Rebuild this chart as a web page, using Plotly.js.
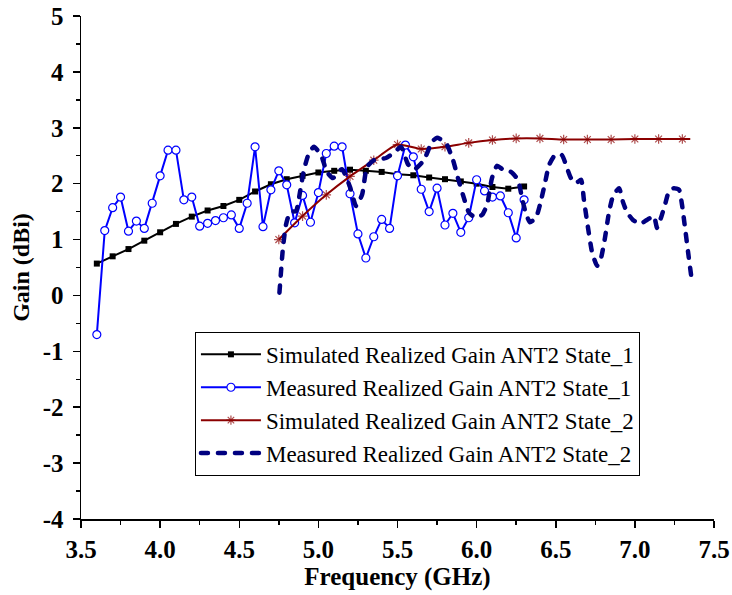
<!DOCTYPE html>
<html>
<head>
<meta charset="utf-8">
<script src="https://cdn.plot.ly/plotly-3.0.1.min.js"></script>
<style>
html,body{margin:0;padding:0;background:#fff}
#chart{width:732px;height:595px}
.scatterlayer .trace:nth-child(4) .js-line{stroke-linecap:round}
.legend .traces:nth-child(4) .js-line{stroke-linecap:round}
</style>
</head>
<body>
<div id="chart"></div>
<script>
// Simulated Realized Gain ANT2 State_1
const simFreq1 = [3.6,3.7,3.8,3.9,4.0,4.1,4.2,4.3,4.4,4.5,4.6,4.7,4.8,4.9,5.0,5.1,5.2,5.3,5.4,5.5,5.6,5.7,5.8,5.9,6.0,6.1,6.2,6.3];
const simGain1 = [0.57,0.70,0.83,0.98,1.13,1.28,1.41,1.52,1.60,1.71,1.86,1.99,2.08,2.14,2.20,2.23,2.25,2.23,2.21,2.17,2.15,2.11,2.08,2.04,2.00,1.94,1.91,1.95];

// Measured Realized Gain ANT2 State_1
const measFreq1 = [3.60,3.65,3.70,3.75,3.80,3.85,3.90,3.95,4.00,4.05,4.10,4.15,4.20,4.25,4.30,4.35,4.40,4.45,4.50,4.55,4.60,4.65,4.70,4.75,4.80,4.85,4.90,4.95,5.00,5.05,5.10,5.15,5.20,5.25,5.30,5.35,5.40,5.45,5.50,5.55,5.60,5.65,5.70,5.75,5.80,5.85,5.90,5.95,6.00,6.05,6.10,6.15,6.20,6.25,6.30];
const measGain1 = [-0.70,1.16,1.57,1.76,1.15,1.33,1.20,1.65,2.14,2.60,2.60,1.71,1.76,1.24,1.29,1.34,1.39,1.44,1.20,1.65,2.66,1.23,1.89,2.23,1.98,1.30,1.79,1.31,1.84,2.54,2.67,2.66,1.82,1.10,0.67,1.05,1.36,1.20,2.14,2.69,2.48,1.90,1.50,1.92,1.26,1.47,1.13,1.39,2.07,1.87,1.76,1.78,1.48,1.03,1.71];

// Simulated Realized Gain ANT2 State_2
const simFreq2 = [4.75,4.90,5.05,5.20,5.35,5.50,5.65,5.80,5.95,6.10,6.25,6.40,6.55,6.70,6.85,7.00,7.15,7.30,7.35];
const simGain2 = [1.00,1.42,1.80,2.13,2.42,2.70,2.62,2.66,2.73,2.78,2.81,2.81,2.79,2.79,2.79,2.80,2.80,2.80,2.80];
const simMarked2 = [1,1,1,1,1,1,1,1,1,1,1,1,1,1,1,1,1,1,0];

// Measured Realized Gain ANT2 State_2
const measFreq2 = [4.754,4.776,4.795,4.821,4.859,4.884,4.909,4.941,4.972,5.017,5.054,5.092,5.149,5.200,5.238,5.276,5.307,5.351,5.427,5.484,5.522,5.566,5.604,5.667,5.718,5.750,5.806,5.851,5.882,5.920,5.952,5.996,6.034,6.066,6.097,6.129,6.167,6.217,6.261,6.287,6.312,6.337,6.375,6.400,6.432,6.457,6.495,6.539,6.571,6.596,6.628,6.660,6.678,6.704,6.729,6.761,6.786,6.811,6.836,6.862,6.900,6.925,6.950,6.988,7.032,7.076,7.120,7.140,7.165,7.190,7.216,7.247,7.279,7.298,7.317,7.336,7.355];
const measGain2 = [0.05,0.85,1.26,1.49,1.51,1.85,2.25,2.55,2.66,2.51,2.21,2.10,2.26,1.94,1.60,1.80,2.30,2.42,2.46,2.57,2.66,2.35,2.25,2.42,2.75,2.82,2.73,2.42,2.10,1.74,1.48,1.39,1.44,1.62,2.10,2.32,2.25,2.21,2.07,1.74,1.46,1.31,1.39,1.62,2.01,2.33,2.51,2.51,2.28,2.10,2.01,2.07,1.71,1.21,0.78,0.53,0.67,1.03,1.48,1.78,1.92,1.67,1.49,1.35,1.28,1.35,1.42,1.21,1.39,1.62,1.87,1.92,1.89,1.62,1.21,0.78,0.37];

// Axis ticks
const xTickVals = [3.5,4.0,4.5,5.0,5.5,6.0,6.5,7.0,7.5];
const xTickText = ['3.5','4.0','4.5','5.0','5.5','6.0','6.5','7.0','7.5'];
const yTickVals = [-4,-3,-2,-1,0,1,2,3,4,5];
const yTickText = ['-4','-3','-2','-1','0','1','2','3','4','5'];

const names = [
  'Simulated Realized Gain ANT2 State_1',
  'Measured Realized Gain ANT2 State_1',
  'Simulated Realized Gain ANT2 State_2',
  'Measured Realized Gain ANT2 State_2'
];

const serif = 'Liberation Serif, Times New Roman, serif';

const traces = [
  {
    x: simFreq1, y: simGain1, name: names[0], type: 'scatter', mode: 'lines+markers',
    line: {color: '#000000', width: 2},
    marker: {symbol: 'square', size: 6, color: '#000000'}
  },
  {
    x: measFreq1, y: measGain1, name: names[1], type: 'scatter', mode: 'lines+markers',
    line: {color: '#0000FF', width: 2},
    marker: {symbol: 'circle', size: 8, color: '#FFFFFF', line: {color: '#0000FF', width: 1.2}}
  },
  {
    x: simFreq2, y: simGain2, name: names[2], type: 'scatter', mode: 'lines+markers',
    line: {color: '#8B0000', width: 2, shape: 'spline', smoothing: 0.6},
    marker: {symbol: 'asterisk-open', size: simMarked2.map(v => v ? 8 : 0), color: '#8B0000', line: {color: '#8B0000', width: 1.2}}
  },
  {
    x: measFreq2, y: measGain2, name: names[3], type: 'scatter', mode: 'lines',
    line: {color: '#000080', width: 4.5, dash: '7px,10px', shape: 'spline', smoothing: 0.5}
  }
];

const axisCommon = {
  showgrid: false, zeroline: false, showline: true, linecolor: '#000', linewidth: 1.5,
  ticks: 'outside', ticklen: 7, tickwidth: 1.5, tickcolor: '#000',
  tickfont: {family: serif, size: 25, color: '#000'},
  mirror: false
};

const bold = a => a.map(s => '<b>' + s + '</b>');

const layout = {
  width: 732, height: 595,
  paper_bgcolor: '#fff', plot_bgcolor: '#fff',
  margin: {l: 81, r: 18, t: 16, b: 76},
  showlegend: true,
  xaxis: Object.assign({}, axisCommon, {
    range: [3.5, 7.5], tickmode: 'array', tickvals: xTickVals, ticktext: bold(xTickText),
    minor: {dtick: 0.25, tick0: 3.5, ticks: 'outside', ticklen: 4, tickwidth: 1.5, tickcolor: '#000'},
    title: {text: '<b>Frequency (GHz)</b>', font: {family: serif, size: 25, color: '#000'}, standoff: 4}
  }),
  yaxis: Object.assign({}, axisCommon, {
    range: [-4, 5], tickmode: 'array', tickvals: yTickVals, ticktext: bold(yTickText),
    ticklabelstandoff: 4,
    minor: {dtick: 0.5, tick0: 0, ticks: 'outside', ticklen: 4, tickwidth: 1.5, tickcolor: '#000'},
    title: {text: '<b>Gain (dBi)</b>', font: {family: serif, size: 24, color: '#000'}, standoff: 6}
  }),
  legend: {
    x: 0.18, y: 0.372, xanchor: 'left', yanchor: 'top',
    bgcolor: '#fff', bordercolor: '#000', borderwidth: 1,
    font: {family: serif, size: 23, color: '#000'},
    itemwidth: 60, tracegroupgap: 0
  }
};

Plotly.newPlot('chart', traces, layout, {displayModeBar: false, staticPlot: true});
</script>
</body>
</html>
